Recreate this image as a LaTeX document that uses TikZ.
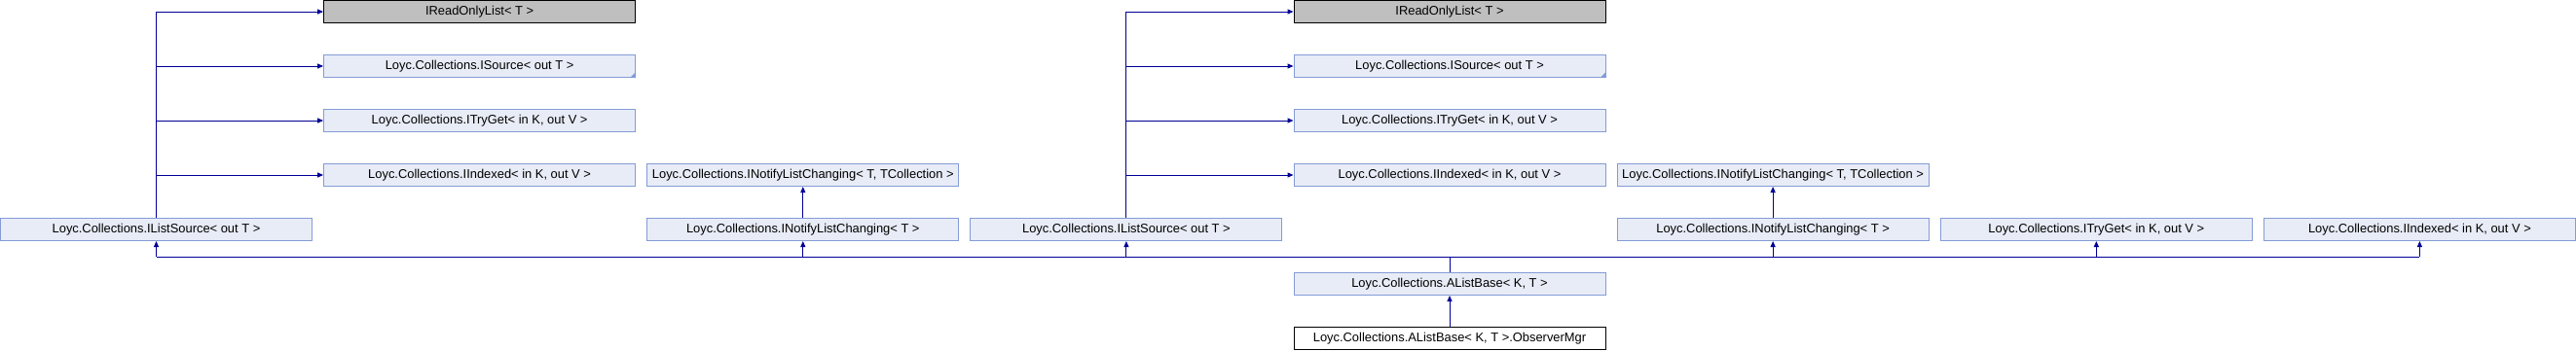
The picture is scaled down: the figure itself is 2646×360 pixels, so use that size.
\documentclass[tikz,border=0pt]{standalone}
\usepackage{fontspec}
\setmainfont{Liberation Sans}
\usetikzlibrary{arrows.meta}
\definecolor{boxfill}{RGB}{232,236,246}
\definecolor{boxline}{RGB}{132,155,214}
\definecolor{grayfill}{RGB}{191,191,191}
\definecolor{edge}{RGB}{0,0,150}
\tikzset{
  cls/.style={draw=boxline, fill=boxfill, line width=1pt, minimum width=320pt, minimum height=23pt, inner sep=0pt, font=\fontsize{12.9}{15}\selectfont},
  extcls/.style={cls, draw=black, fill=grayfill},
  curcls/.style={cls, draw=black, fill=white},
  conn/.style={draw=edge, line width=1pt},
  inh/.style={conn, -{Triangle[length=6pt,width=5pt]}},
  more/.style={fill=boxline}
}
\begin{document}
\begin{tikzpicture}[x=1pt,y=-1pt]
\useasboundingbox (0,0) rectangle (2646,360);
% row 0
\node[extcls] (ro1) at (492.6,12) {IReadOnlyList< T >};
\node[extcls] (ro2) at (1489.0,12) {IReadOnlyList< T >};
% row 1
\node[cls] (src1) at (492.6,68) {Loyc.Collections.ISource< out T >};
\node[cls] (src2) at (1489.0,68) {Loyc.Collections.ISource< out T >};
% row 2
\node[cls] (tg1) at (492.6,124) {Loyc.Collections.ITryGet< in K, out V >};
\node[cls] (tg2) at (1489.0,124) {Loyc.Collections.ITryGet< in K, out V >};
% row 3
\node[cls] (ix1) at (492.6,180) {Loyc.Collections.IIndexed< in K, out V >};
\node[cls] (nct1) at (824.8,180) {Loyc.Collections.INotifyListChanging< T, TCollection >};
\node[cls] (ix2) at (1489.0,180) {Loyc.Collections.IIndexed< in K, out V >};
\node[cls] (nct2) at (1821.1,180) {Loyc.Collections.INotifyListChanging< T, TCollection >};
% row 4
\node[cls] (ls1) at (160.5,236) {Loyc.Collections.IListSource< out T >};
\node[cls] (nc1) at (824.8,236) {Loyc.Collections.INotifyListChanging< T >};
\node[cls] (ls2) at (1156.9,236) {Loyc.Collections.IListSource< out T >};
\node[cls] (nc2) at (1821.1,236) {Loyc.Collections.INotifyListChanging< T >};
\node[cls] (tg3) at (2153.3,236) {Loyc.Collections.ITryGet< in K, out V >};
\node[cls] (ix3) at (2485.4,236) {Loyc.Collections.IIndexed< in K, out V >};
% row 5, 6
\node[cls] (alb) at (1489.0,292) {Loyc.Collections.AListBase< K, T >};
\node[curcls] (om) at (1489.0,348) {Loyc.Collections.AListBase< K, T >.ObserverMgr};
% more-inheritance markers
\fill[more] (src1.south east) -- ++(0,-6) -- ++(-6,6) -- cycle;
\fill[more] (src2.south east) -- ++(0,-6) -- ++(-6,6) -- cycle;
% IListSource 1 bases
\draw[conn] (ls1.north) -- (ls1.north |- ro1.west);
\draw[inh] (ls1.north |- ro1.west) -- (ro1.west);
\draw[inh] (ls1.north |- src1.west) -- (src1.west);
\draw[inh] (ls1.north |- tg1.west) -- (tg1.west);
\draw[inh] (ls1.north |- ix1.west) -- (ix1.west);
% IListSource 2 bases
\draw[conn] (ls2.north) -- (ls2.north |- ro2.west);
\draw[inh] (ls2.north |- ro2.west) -- (ro2.west);
\draw[inh] (ls2.north |- src2.west) -- (src2.west);
\draw[inh] (ls2.north |- tg2.west) -- (tg2.west);
\draw[inh] (ls2.north |- ix2.west) -- (ix2.west);
% INotifyListChanging
\draw[inh] (nc1.north) -- (nct1.south);
\draw[inh] (nc2.north) -- (nct2.south);
% bus
\coordinate (busL) at (160.5,264);
\coordinate (busR) at (2485.4,264);
\draw[conn] (alb.north) -- (alb.north |- busL);
\draw[conn] (busL) -- (busR);
\draw[inh] (ls1.south |- busL) -- (ls1.south);
\draw[inh] (nc1.south |- busL) -- (nc1.south);
\draw[inh] (ls2.south |- busL) -- (ls2.south);
\draw[inh] (nc2.south |- busL) -- (nc2.south);
\draw[inh] (tg3.south |- busL) -- (tg3.south);
\draw[inh] (ix3.south |- busL) -- (ix3.south);
% ObserverMgr
\draw[inh] (om.north) -- (alb.south);
\end{tikzpicture}
\end{document}
